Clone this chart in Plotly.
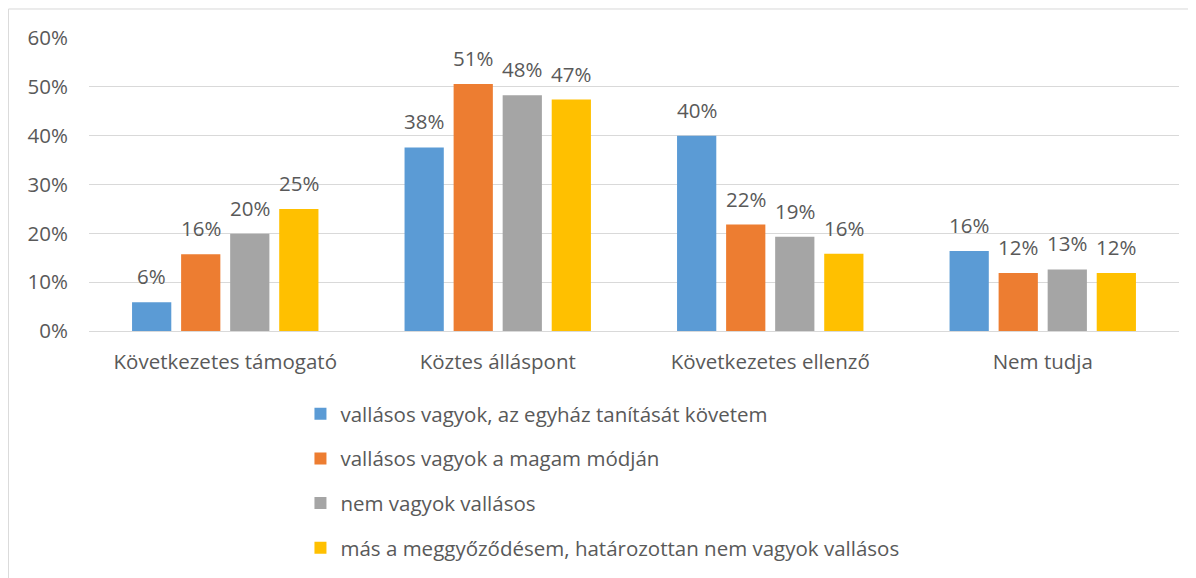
import plotly.graph_objects as go

# Categories and series
categories = ["Következetes támogató", "Köztes álláspont", "Következetes ellenző", "Nem tudja"]

series_names = [
    "vallásos vagyok, az egyház tanítását követem",
    "vallásos vagyok a magam módján",
    "nem vagyok vallásos",
    "más a meggyőződésem, határozottan nem vagyok vallásos",
]

vallasos_egyhaz = [0.059, 0.376, 0.400, 0.164]
vallasos_maga = [0.157, 0.506, 0.218, 0.119]
nem_vallasos = [0.199, 0.483, 0.193, 0.126]
mas_meggyozodes = [0.250, 0.474, 0.158, 0.119]

series_values = [vallasos_egyhaz, vallasos_maga, nem_vallasos, mas_meggyozodes]
colors = ["#5B9BD5", "#ED7D31", "#A5A5A5", "#FFC000"]

font_family = "'Open Sans', sans-serif"
text_color = "#595959"
fsize = 20.5

# layout geometry
W, H = 1188, 570
margin = dict(l=81, r=17, t=30, b=247, autoexpand=False)
bargap = 0.28
plot_w = W - margin["l"] - margin["r"]
slot_w = plot_w / len(categories) * (1 - bargap) / len(series_names)

fig = go.Figure()

for i, (name, vals) in enumerate(zip(series_names, series_values)):
    fig.add_trace(go.Bar(
        x=categories,
        y=vals,
        name=name,
        marker=dict(color=colors[i], line=dict(width=0)),
        legendgroup="g%d" % i,
    ))
    # data labels, lifted a little above the bars like the original
    xshift = (i - (len(series_names) - 1) / 2) * slot_w
    for cat, v in zip(categories, vals):
        fig.add_annotation(
            x=cat, y=v, xref="x", yref="y",
            text="%d%%" % round(v * 100),
            showarrow=False, yanchor="bottom",
            xshift=xshift, yshift=10,
            font=dict(size=fsize, color=text_color, family=font_family),
        )

# chart frame (light border, top and left edges visible)
fig.add_shape(type="rect", xref="paper", yref="paper",
              x0=-0.0739, x1=1.2, y0=-1.5, y1=1.099,
              line=dict(color="#D9D9D9", width=1), layer="below")

fig.update_layout(
    width=W,
    height=H,
    margin=margin,
    paper_bgcolor="white",
    plot_bgcolor="white",
    barmode="group",
    bargap=bargap,
    bargroupgap=0.2,
    font=dict(family=font_family, size=fsize, color=text_color),
    showlegend=True,
    legend=dict(
        orientation="v",
        x=0.194, xanchor="left",
        y=-0.215, yanchor="top",
        font=dict(size=fsize, color=text_color),
        tracegroupgap=15,
        itemwidth=30,
        traceorder="grouped",
    ),
)

fig.update_yaxes(
    range=[0, 0.6],
    dtick=0.1,
    tickformat=".0%",
    showgrid=True,
    gridcolor="#D9D9D9",
    gridwidth=1,
    zeroline=True,
    zerolinecolor="#D9D9D9",
    zerolinewidth=1,
    showline=False,
    ticks="",
    ticklabelstandoff=20,
    tickfont=dict(size=fsize, color=text_color),
    automargin=False,
)
fig.update_xaxes(
    showline=False,
    ticks="",
    ticklabelstandoff=16,
    tickfont=dict(size=fsize, color=text_color),
    automargin=False,
)

fig.write_html("out.html")
